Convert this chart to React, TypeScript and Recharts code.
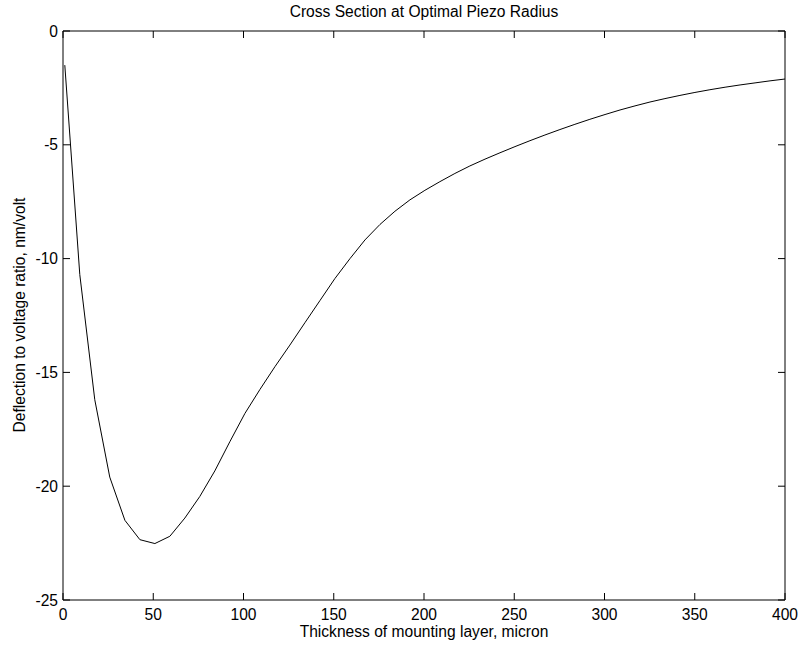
import { Line, LineChart, XAxis, YAxis } from "recharts";

const thickness = [
  1, 9.3, 17.6, 25.9, 34.3, 42.6, 50.9, 59.2, 67.5, 75.8, 84.1, 92.4, 100.8, 109.1, 117.4, 125.7, 134.0,
  142.3, 150.6, 159.0, 167.3, 175.6, 183.9, 192.2, 200.5, 208.8, 217.1, 225.4, 233.8, 242.1, 250.4,
  258.7, 267.0, 275.3, 283.6, 291.9, 300.3, 308.6, 316.9, 325.2, 333.5, 341.8, 350.1, 358.4, 366.8,
  375.1, 383.4, 391.7, 400,
];
const deflection = [
  -1.5, -10.7, -16.2, -19.6, -21.5, -22.35, -22.52, -22.2, -21.4, -20.45, -19.33, -18.05, -16.8,
  -15.75, -14.75, -13.8, -12.82, -11.85, -10.88, -10.0, -9.18, -8.5, -7.92, -7.42, -7.0, -6.62, -6.26,
  -5.93, -5.63, -5.35, -5.08, -4.82, -4.57, -4.33, -4.1, -3.88, -3.67, -3.47, -3.29, -3.12, -2.97,
  -2.83, -2.7, -2.58, -2.47, -2.37, -2.28, -2.19, -2.11,
];
const xTicks = [0, 50, 100, 150, 200, 250, 300, 350, 400];
const yTicks = [0, -5, -10, -15, -20, -25];

const data = thickness.map((x, i) => ({ x, y: deflection[i] }));

const font = "'Liberation Sans', Arial, Helvetica, sans-serif";
const fs = 15.6;
const tickLen = 7;
const xGap = 9;
const yGap = 5;

// matlab-style ticks: marks point into the plot box, labels stay outside
function BottomTick(p: any) {
  return (
    <g>
      <line x1={p.x} x2={p.x} y1={p.y - xGap} y2={p.y - xGap - tickLen} stroke="#000" />
      <text x={p.x} y={p.y} dy="0.71em" textAnchor="middle" fill="#000" fontSize={fs} fontFamily={font}>
        {p.payload.value}
      </text>
    </g>
  );
}

function LeftTick(p: any) {
  return (
    <g>
      <line x1={p.x + yGap} x2={p.x + yGap + tickLen} y1={p.y} y2={p.y} stroke="#000" />
      <text x={p.x} y={p.y} dy="0.36em" textAnchor="end" fill="#000" fontSize={fs} fontFamily={font}>
        {p.payload.value}
      </text>
    </g>
  );
}

function TopTick(p: any) {
  return <line x1={p.x} x2={p.x} y1={p.y} y2={p.y + tickLen} stroke="#000" />;
}

function RightTick(p: any) {
  return <line x1={p.x} x2={p.x - tickLen} y1={p.y} y2={p.y} stroke="#000" />;
}

export default function App() {
  return (
    <div style={{ position: "absolute", left: 0, top: 0, width: 801, height: 649, background: "#fff", fontFamily: font }}>
      <LineChart width={801} height={649} data={data} margin={{ top: 21, right: 6, bottom: 19, left: 13 }}>
        <XAxis
          xAxisId="bottom"
          dataKey="x"
          type="number"
          domain={[0, 400]}
          ticks={xTicks}
          height={30}
          stroke="#000"
          tickLine={false}
          tickSize={0}
          tickMargin={xGap}
          tick={BottomTick}
          allowDataOverflow
        />
        <XAxis
          xAxisId="top"
          dataKey="x"
          orientation="top"
          type="number"
          domain={[0, 400]}
          ticks={xTicks}
          height={10}
          stroke="#000"
          tickLine={false}
          tickSize={0}
          tickMargin={0}
          tick={TopTick}
          allowDataOverflow
        />
        <YAxis
          yAxisId="left"
          type="number"
          domain={[-25, 0]}
          ticks={yTicks}
          width={50}
          stroke="#000"
          tickLine={false}
          tickSize={0}
          tickMargin={yGap}
          tick={LeftTick}
          allowDataOverflow
        />
        <YAxis
          yAxisId="right"
          orientation="right"
          type="number"
          domain={[-25, 0]}
          ticks={yTicks}
          width={10}
          stroke="#000"
          tickLine={false}
          tickSize={0}
          tickMargin={0}
          tick={RightTick}
          allowDataOverflow
        />
        {/* invisible copy so the top/right frame axes have a series */}
        <Line xAxisId="top" yAxisId="right" type="linear" dataKey="y" stroke="none" dot={false} isAnimationActive={false} />
        <Line
          xAxisId="bottom"
          yAxisId="left"
          type="linear"
          dataKey="y"
          stroke="#000"
          strokeWidth={1}
          dot={false}
          isAnimationActive={false}
        />
      </LineChart>
      <div style={{ position: "absolute", left: 63, width: 722, top: 3, textAlign: "center", fontSize: fs, lineHeight: "18px" }}>
        Cross Section at Optimal Piezo Radius
      </div>
      <div style={{ position: "absolute", left: 63, width: 722, top: 623, textAlign: "center", fontSize: fs, lineHeight: "18px" }}>
        Thickness of mounting layer, micron
      </div>
      <div
        style={{
          position: "absolute",
          left: 20,
          top: 315,
          width: 400,
          marginLeft: -200,
          marginTop: -9,
          textAlign: "center",
          fontSize: fs,
          lineHeight: "18px",
          transform: "rotate(-90deg)",
        }}
      >
        Deflection to voltage ratio, nm/volt
      </div>
    </div>
  );
}
